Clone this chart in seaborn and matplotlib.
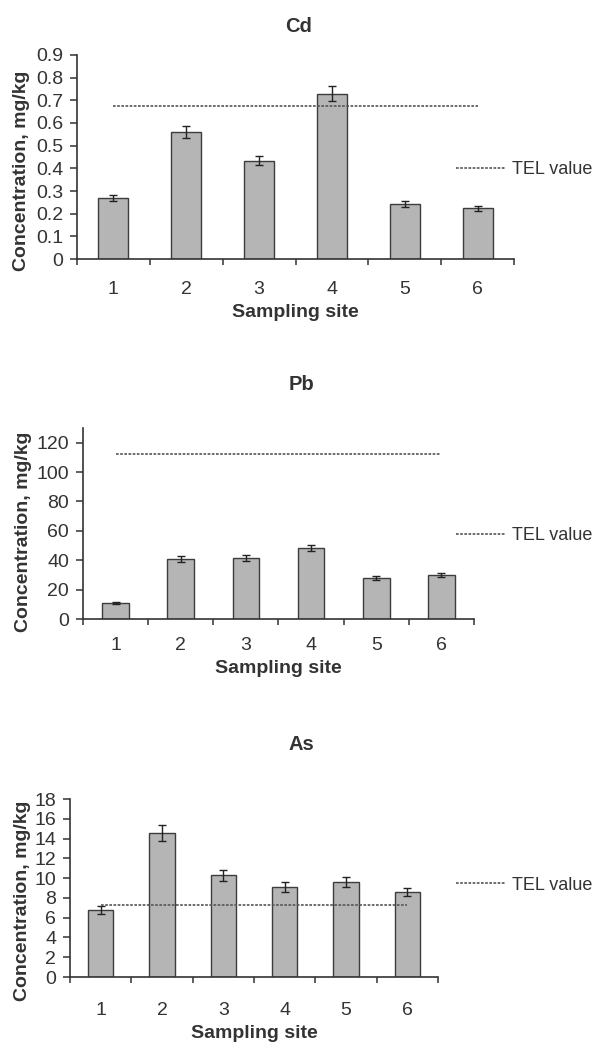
import pandas as pd
import matplotlib.pyplot as plt
import seaborn as sns
from matplotlib.ticker import FixedLocator


sites = ["1", "2", "3", "4", "5", "6"]

cd_values = [0.268, 0.559, 0.433, 0.730, 0.243, 0.224]
cd_errors = [0.014, 0.027, 0.020, 0.035, 0.012, 0.011]
cd_tel = 0.676

pb_values = [11.1, 40.7, 41.6, 48.4, 28.0, 30.0]
pb_errors = [0.7, 1.9, 1.9, 2.3, 1.5, 1.6]
pb_tel = 112

as_values = [6.77, 14.53, 10.28, 9.13, 9.57, 8.56]
as_errors = [0.40, 0.82, 0.58, 0.50, 0.50, 0.40]
as_tel = 7.24

BAR_COLOR = "#b5b5b5"
EDGE_COLOR = "#3c3c3c"
TEXT_COLOR = "#333333"
FS = 14

sns.set_style("white")
plt.rcParams["font.family"] = ["Liberation Sans", "DejaVu Sans"]
plt.rcParams["text.color"] = TEXT_COLOR
plt.rcParams["axes.labelcolor"] = TEXT_COLOR
plt.rcParams["xtick.color"] = TEXT_COLOR
plt.rcParams["ytick.color"] = TEXT_COLOR

W, H = 594, 1043


def px_axes(left, right, bottom, top):
    return [left / W, 1 - bottom / H, (right - left) / W, (bottom - top) / H]


def plot_panel(fig, rect, values, errors, tel, ylim, yticks, yfmt,
               title, title_xy, legend_y, xpad, ylabel_x, ylabel_y):
    ax = fig.add_axes(rect)
    df = pd.DataFrame({"site": sites, "conc": values})
    sns.barplot(data=df, x="site", y="conc", ax=ax, color=BAR_COLOR,
                width=0.41, edgecolor=EDGE_COLOR, linewidth=1.0,
                errorbar=None, saturation=1)
    ax.errorbar(range(len(sites)), values, yerr=errors, fmt="none",
                ecolor="#222222", elinewidth=1.0, capsize=3, capthick=1.0)
    tel_line, = ax.plot([0, len(sites) - 1], [tel, tel], color="#555555",
                        linestyle=(0, (1.6, 0.9)), linewidth=1.2)

    ax.set_xlim(-0.5, len(sites) - 0.5)
    ax.set_ylim(*ylim)
    ax.set_yticks(yticks)
    ax.set_yticklabels([yfmt(v) for v in yticks], fontsize=FS)
    ax.set_xticks(range(len(sites)))
    ax.set_xticklabels(sites, fontsize=FS)
    ax.xaxis.set_minor_locator(FixedLocator([i - 0.5 for i in range(len(sites) + 1)]))
    ax.tick_params(axis="x", which="major", length=0, pad=xpad)
    ax.tick_params(axis="x", which="minor", length=4.5, width=1.1,
                   direction="out", color="#333333", bottom=True)
    ax.tick_params(axis="y", length=5, width=1.1, direction="out",
                   pad=5, left=True, color="#333333")

    sns.despine(ax=ax)
    for s in ["left", "bottom"]:
        ax.spines[s].set_color("#333333")
        ax.spines[s].set_linewidth(1.2)

    ax.set_xlabel("Sampling site", fontsize=FS, fontweight="bold", labelpad=4)
    ax.set_ylabel("Concentration, mg/kg", fontsize=FS, fontweight="bold",
                  va="center")
    ax.yaxis.set_label_coords(ylabel_x, ylabel_y)

    fig.text(title_xy[0] / W, 1 - title_xy[1] / H, title, fontsize=14.5,
             fontweight="bold", ha="center", va="center")
    fig.legend([tel_line], ["TEL value"], loc="center left",
               bbox_to_anchor=(456 / W, 1 - legend_y / H), frameon=False,
               fontsize=13, handlelength=2.7, handletextpad=0.4,
               borderpad=0, borderaxespad=0)
    return ax


fig = plt.figure(figsize=(W / 100, H / 100), dpi=100)

plot_panel(fig, px_axes(77, 514, 259, 55), cd_values, cd_errors, cd_tel,
           (0, 0.9), [i / 10 for i in range(10)],
           lambda v: "0" if v == 0 else f"{v:.1f}",
           "Cd", (299, 27), 170, 16, -0.126, 0.43)

plot_panel(fig, px_axes(83, 474, 619, 428), pb_values, pb_errors, pb_tel,
           (0, 130), list(range(0, 121, 20)), lambda v: f"{v}",
           "Pb", (301, 385), 536, 13, -0.152, 0.455)

plot_panel(fig, px_axes(70, 438, 977, 799), as_values, as_errors, as_tel,
           (0, 18), list(range(0, 19, 2)), lambda v: f"{v}",
           "As", (301, 745), 885, 18, -0.128, 0.43)

fig.savefig("out.png", dpi=100)
